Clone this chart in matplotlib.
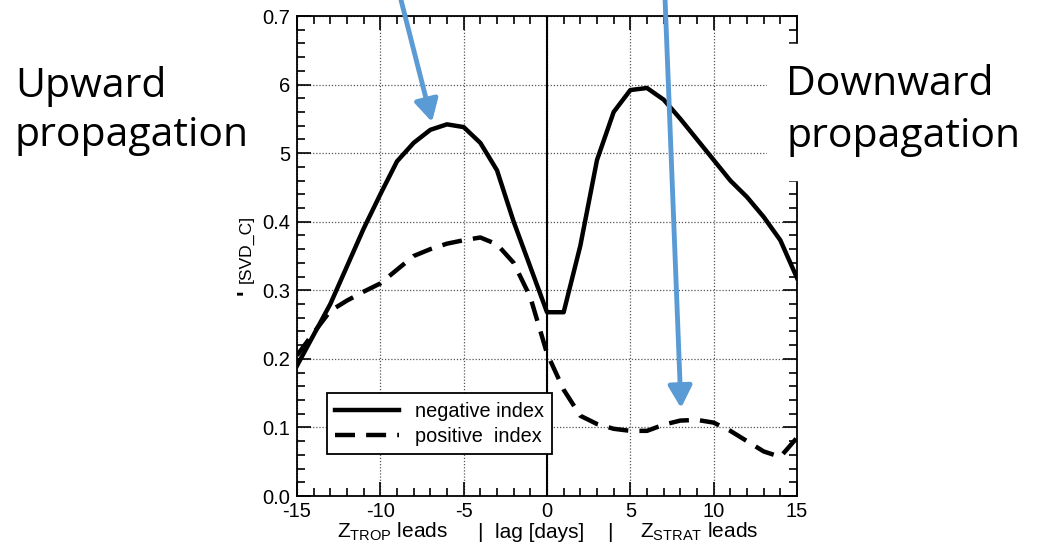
import matplotlib.pyplot as plt
from matplotlib.patches import Rectangle, FancyArrowPatch
from matplotlib.ticker import MultipleLocator

plt.rcParams['font.family'] = ['Liberation Sans', 'DejaVu Sans']
plt.rcParams['mathtext.fontset'] = 'custom'
plt.rcParams['mathtext.rm'] = 'Liberation Sans'
plt.rcParams['mathtext.it'] = 'Liberation Sans:italic'
plt.rcParams['axes.unicode_minus'] = False

# lag in days
lags = list(range(-15, 16))
neg_index = [0.19, 0.235, 0.28, 0.335, 0.39, 0.44, 0.488, 0.515, 0.534, 0.542, 0.538,
             0.515, 0.475, 0.40, 0.334, 0.268, 0.268, 0.365, 0.49, 0.56, 0.592,
             0.595, 0.578, 0.55, 0.52, 0.49, 0.46, 0.436, 0.407, 0.373, 0.318]
pos_index = [0.205, 0.238, 0.27, 0.285, 0.298, 0.31, 0.33, 0.35, 0.36, 0.368, 0.373,
             0.377, 0.367, 0.34, 0.29, 0.208, 0.155, 0.117, 0.105, 0.098, 0.095,
             0.095, 0.104, 0.11, 0.111, 0.107, 0.095, 0.08, 0.065, 0.057, 0.085]
yticks = [0.0, 0.1, 0.2, 0.3, 0.4, 0.5, 0.6, 0.7]
ytick_labels = ['0.0', '0.1', '0.2', '0.3', '0.4', '5', '6', '0.7']
xticks = [-15, -10, -5, 0, 5, 10, 15]

W, H = 1048, 549


def fx(px):
    return px / W


def fy(py):
    return 1 - py / H


fig = plt.figure(figsize=(W / 100, H / 100), dpi=100)
ax = fig.add_axes([fx(297), fy(496), 500 / W, 480 / H])

ax.plot(lags, neg_index, color='black', lw=3.2, solid_joinstyle='round',
        label='negative index', zorder=3)
ax.plot(lags, pos_index, color='black', lw=3.2, dashes=(4.5, 2.5),
        label='positive  index', zorder=3)
ax.axvline(0, color='black', lw=1.5, zorder=2)

ax.set_xlim(-15, 15)
ax.set_ylim(0, 0.7)
ax.set_xticks(xticks)
ax.set_yticks(yticks)
ax.set_yticklabels(ytick_labels)
ax.xaxis.set_minor_locator(MultipleLocator(1))
ax.yaxis.set_minor_locator(MultipleLocator(0.02))
ax.tick_params(which='both', direction='in', top=True, right=True,
               width=1.2, labelsize=14.5, colors='black')
ax.tick_params(which='major', length=10)
ax.tick_params(which='minor', length=6)
ax.tick_params(axis='x', pad=4)
ax.tick_params(axis='y', pad=5)
ax.grid(True, which='major', ls=(0, (1, 1.5)), color='#555555', lw=0.9)
for s in ax.spines.values():
    s.set_linewidth(1.3)

leg = ax.legend(loc='lower left', bbox_to_anchor=(0.06, 0.0875), borderaxespad=0,
                fontsize=14.3, handlelength=3.2, handletextpad=0.8, labelspacing=0.3,
                borderpad=0.42, fancybox=False, framealpha=1, edgecolor='black')
leg.get_frame().set_linewidth(1.3)
leg.set_zorder(5)

# y label (partly hidden in the original)
fig.text(fx(247), fy(292), "'", rotation=90, fontsize=17, fontweight='bold',
         ha='center', va='center')
fig.text(fx(246), fy(249), '[SVD_C]', rotation=90, fontsize=12.6,
         ha='center', va='center')

# x label pieces
base = fy(538)
xl = dict(fontsize=15, va='baseline')
fig.text(fx(337), base, r'$\mathrm{Z_{TROP}}$ leads', **xl)
fig.text(fx(480), base, '|', ha='center', **xl)
fig.text(fx(495), base, 'lag [days]', **xl)
fig.text(fx(610), base, '|', ha='center', **xl)
fig.text(fx(640), base, r'$\mathrm{Z_{STRAT}}$ leads', **xl)

# white boxes behind the annotations
fig.add_artist(Rectangle((0, fy(172)), fx(272), fy(55) - fy(172),
                         transform=fig.transFigure, color='white', zorder=10))
fig.add_artist(Rectangle((fx(767), fy(180)), 1 - fx(767), fy(44) - fy(180),
                         transform=fig.transFigure, color='white', zorder=10))

tfont = dict(family=['Open Sans', 'DejaVu Sans'], fontsize=29.5, va='baseline', zorder=11)
fig.text(fx(15), fy(97), 'Upward', **tfont)
fig.text(fx(15), fy(146), 'propagation', **tfont)
fig.text(fx(786), fy(95), 'Downward', **tfont)
fig.text(fx(786), fy(147), 'propagation', **tfont)

arrow_color = '#5B9BD5'
for start, end in [((401, 0), (432, 122)), ((665, -2), (681, 408))]:
    arr = FancyArrowPatch((fx(start[0]), fy(start[1])), (fx(end[0]), fy(end[1])),
                          transform=fig.transFigure,
                          arrowstyle='-|>,head_length=0.55,head_width=0.3',
                          mutation_scale=24, lw=3.5, color=arrow_color,
                          shrinkA=0, shrinkB=0, zorder=12)
    fig.add_artist(arr)

fig.savefig('out.png', dpi=100)
